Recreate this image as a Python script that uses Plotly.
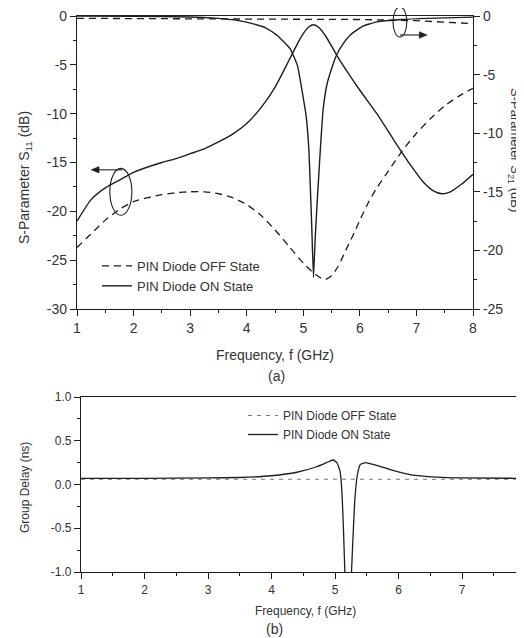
import plotly.graph_objects as go

# ---------------- data ----------------
# (a) S11, PIN diode OFF (left axis, dashed)
f_s11_off = [1.0, 1.25, 1.5, 1.75, 2.0, 2.25, 2.5, 2.75, 3.0, 3.25, 3.5, 3.75, 4.0, 4.25,
             4.5, 4.75, 5.0, 5.2, 5.38, 5.5, 5.62, 5.75, 5.9, 6.0, 6.15, 6.3, 6.5, 6.75,
             7.0, 7.25, 7.5, 7.75, 8.0]
s11_off = [-23.7, -22.3, -20.9, -19.8, -19.0, -18.6, -18.3, -18.1, -18.0, -18.0, -18.2,
           -18.6, -19.3, -20.4, -21.9, -23.6, -25.3, -26.4, -27.0, -26.6, -25.6, -24.0,
           -22.2, -20.9, -19.1, -17.6, -15.9, -13.8, -12.0, -10.5, -9.2, -8.2, -7.4]

# (a) S11, PIN diode ON (left axis, solid)
f_s11_on = [1.0, 1.25, 1.5, 1.75, 2.0, 2.5, 2.75, 3.0, 3.25, 3.5, 3.75, 4.0, 4.25, 4.5,
            4.75, 4.9, 5.0, 5.1, 5.18, 5.28, 5.4, 5.6, 5.8, 6.0, 6.3, 6.6, 6.9, 7.12,
            7.3, 7.45, 7.6, 7.8, 8.0]
s11_on = [-21.0, -18.8, -17.6, -16.8, -16.0, -15.0, -14.6, -14.1, -13.6, -12.9, -12.1,
          -11.0, -9.4, -7.3, -4.5, -2.8, -1.8, -1.1, -0.9, -1.2, -2.1, -4.1, -5.9, -7.6,
          -10.0, -12.7, -15.3, -17.0, -17.9, -18.2, -18.0, -17.2, -16.2]

# (a) S21, PIN diode OFF (right axis, dashed)
f_s21_off = [1.0, 4.0, 6.0, 7.0, 7.5, 8.0]
s21_off = [-0.2, -0.25, -0.3, -0.4, -0.5, -0.65]

# (a) S21, PIN diode ON (right axis, solid)
f_s21_on = [1.0, 2.0, 3.0, 3.5, 3.8, 4.1, 4.35, 4.55, 4.77, 4.9, 5.0, 5.05, 5.1, 5.12,
            5.15, 5.18, 5.21, 5.25, 5.3, 5.35, 5.42, 5.5, 5.59, 5.7, 5.83, 6.04, 6.3,
            6.74, 7.2, 8.0]
s21_on = [0.0, -0.02, -0.08, -0.2, -0.35, -0.65, -1.05, -1.7, -2.8, -4.3, -7.0, -8.5,
          -11.5, -14.0, -18.0, -22.3, -19.0, -15.5, -11.5, -8.0, -5.8, -4.5, -3.3, -2.4,
          -1.62, -0.9, -0.5, -0.3, -0.2, -0.1]

# (b) group delay (ns)
f_gd_off = [1.0, 2.0, 3.0, 4.0, 5.0, 6.0, 7.0, 8.0]
gd_off = [0.06, 0.06, 0.06, 0.06, 0.06, 0.06, 0.06, 0.06]

f_gd_on = [1.0, 2.0, 3.0, 3.5, 4.0, 4.4, 4.7, 4.9, 4.97, 5.03, 5.08, 5.11, 5.13, 5.155,
           5.17, 5.25, 5.26, 5.29, 5.31, 5.35, 5.4, 5.48, 5.6, 5.87, 6.2, 6.6, 7.0, 8.0]
gd_on = [0.07, 0.07, 0.075, 0.08, 0.10, 0.14, 0.20, 0.26, 0.28, 0.25, 0.15, -0.1, -0.45,
         -1.0, -1.5, -1.5, -1.0, -0.5, -0.2, 0.1, 0.23, 0.25, 0.23, 0.17, 0.11, 0.085,
         0.075, 0.07]

# tick labels
x_ticks_a = [1, 2, 3, 4, 5, 6, 7, 8]
x_labels_a = ["1", "2", "3", "4", "5", "6", "7", "8"]
y_ticks_left = [0, -5, -10, -15, -20, -25, -30]
y_labels_left = ["0", "-5", "-10", "-15", "-20", "-25", "-30"]
y_ticks_right = [0, -5, -10, -15, -20, -25]
y_labels_right = ["0", "-5", "-10", "-15", "-20", "-25"]
x_ticks_b = [1, 2, 3, 4, 5, 6, 7]
x_labels_b = ["1", "2", "3", "4", "5", "6", "7"]
y_ticks_b = [1.0, 0.5, 0.0, -0.5, -1.0]
y_labels_b = ["1.0", "0.5", "0.0", "-0.5", "-1.0"]

legend_names = ["PIN Diode OFF State", "PIN Diode ON State"]

# ---------------- styling ----------------
INK = "#1e1e1e"
TXT = "#333333"
FONT = "Liberation Sans, Arial, sans-serif"
DASH = "7px,5px"

# the page body has an 8px margin: the figure covers window pixels 8..524 x 8..638
OFF = 8
W, H = 524 - OFF, 638 - OFF


def px_x(p):          # window pixel x -> paper fraction
    return (p - OFF) / W


def px_y(p):          # window pixel y -> paper fraction
    return (638 - p) / H


fig = go.Figure()

fig.add_trace(go.Scatter(x=f_s11_off, y=s11_off, mode="lines", name=legend_names[0],
                         line=dict(color=INK, width=1.3, dash=DASH, shape="spline", smoothing=0.6),
                         xaxis="x", yaxis="y", legend="legend"))
fig.add_trace(go.Scatter(x=f_s11_on, y=s11_on, mode="lines", name=legend_names[1],
                         line=dict(color=INK, width=1.4, shape="spline", smoothing=0.6),
                         xaxis="x", yaxis="y", legend="legend"))
fig.add_trace(go.Scatter(x=f_s21_off, y=s21_off, mode="lines", showlegend=False,
                         line=dict(color=INK, width=1.3, dash=DASH),
                         xaxis="x", yaxis="y2"))
fig.add_trace(go.Scatter(x=f_s21_on, y=s21_on, mode="lines", showlegend=False,
                         line=dict(color=INK, width=1.4, shape="spline", smoothing=0.4),
                         xaxis="x", yaxis="y2"))

fig.add_trace(go.Scatter(x=f_gd_off, y=gd_off, mode="lines", name=legend_names[0],
                         line=dict(color="#777777", width=1.2, dash="4px,5px"),
                         xaxis="x3", yaxis="y3", legend="legend2"))
fig.add_trace(go.Scatter(x=f_gd_on, y=gd_on, mode="lines", name=legend_names[1],
                         line=dict(color=INK, width=1.3, shape="spline", smoothing=0.4),
                         xaxis="x3", yaxis="y3", legend="legend2"))

axis_common = dict(showgrid=False, zeroline=False, showline=True, linecolor=INK,
                   linewidth=1.2, ticks="outside", tickcolor=INK, ticklen=6,
                   ticklabeloverflow="allow",
                   tickfont=dict(family=FONT, size=14, color=TXT))
small_font = dict(family=FONT, size=12, color=TXT)

fig.update_layout(
    width=W, height=H,
    margin=dict(l=0, r=0, t=0, b=0, autoexpand=False),
    paper_bgcolor="white", plot_bgcolor="white",
    font=dict(family=FONT, color=TXT),
    xaxis=dict(**axis_common, domain=[px_x(77), px_x(473)], range=[1, 8], anchor="y",
               tickmode="array", tickvals=x_ticks_a, ticktext=x_labels_a, mirror=True,
               minor=dict(dtick=0.5, ticklen=3, ticks="outside", tickcolor=INK)),
    yaxis=dict(**axis_common, domain=[px_y(309), px_y(16)], range=[-30, 0], anchor="x",
               tickmode="array", tickvals=y_ticks_left, ticktext=y_labels_left,
               minor=dict(dtick=2.5, ticklen=3, ticks="outside", tickcolor=INK)),
    yaxis2=dict(**axis_common, range=[-25, 0], overlaying="y", side="right", anchor="x",
                tickmode="array", tickvals=y_ticks_right, ticktext=y_labels_right,
                minor=dict(dtick=2.5, ticklen=3, ticks="outside", tickcolor=INK)),
    xaxis3=dict(**{**axis_common, "tickfont": small_font},
                domain=[px_x(81), 1.0], range=[1, 1 + (524 - 81) / 63.5], anchor="y3",
                tickmode="array", tickvals=x_ticks_b, ticktext=x_labels_b, mirror=True,
                minor=dict(dtick=0.5, ticklen=3, ticks="outside", tickcolor=INK)),
    yaxis3=dict(**{**axis_common, "tickfont": small_font},
                domain=[px_y(572), px_y(397)], range=[-1, 1], anchor="x3",
                tickmode="array", tickvals=y_ticks_b, ticktext=y_labels_b,
                minor=dict(dtick=0.25, ticklen=3, ticks="outside", tickcolor=INK)),
    legend=dict(x=px_x(97), y=px_y(251), xanchor="left", yanchor="top",
                bgcolor="rgba(0,0,0,0)", tracegroupgap=0,
                font=dict(family=FONT, size=13, color=TXT)),
    legend2=dict(x=px_x(243), y=px_y(401), xanchor="left", yanchor="top",
                 bgcolor="rgba(0,0,0,0)", tracegroupgap=0,
                 font=dict(family=FONT, size=12, color=TXT)),
)

ann = [
    dict(text="Frequency, f (GHz)", x=px_x(275), y=px_y(355), size=14),
    dict(text="(a)", x=px_x(276), y=px_y(376), size=14),
    dict(text="S-Parameter S<sub>11</sub> (dB)", x=px_x(25), y=px_y(178), size=14, angle=-90),
    dict(text="S-Parameter S<sub>21</sub> (dB)", x=px_x(514), y=px_y(150), size=13, angle=90),
    dict(text="Frequency, f (GHz)", x=px_x(305), y=px_y(611), size=12),
    dict(text="(b)", x=px_x(274), y=px_y(629), size=14),
    dict(text="Group Delay (ns)", x=px_x(25), y=px_y(488), size=12, angle=-90),
]
for a in ann:
    fig.add_annotation(text=a["text"], x=a["x"], y=a["y"], xref="paper", yref="paper",
                       showarrow=False, textangle=a.get("angle", 0),
                       font=dict(family=FONT, size=a["size"], color=TXT),
                       xanchor="center", yanchor="middle")

# ellipse markers with arrows pointing to their axes (left: S11 axis, right: S21 axis)
fig.add_shape(type="circle", xref="x", yref="y", x0=1.58, x1=1.97, y0=-20.4, y1=-15.6,
              line=dict(color=INK, width=1.1))
fig.add_shape(type="line", xref="x", yref="y", x0=1.80, y0=-15.75, x1=1.36, y1=-15.75,
              line=dict(color=INK, width=1.1))
fig.add_shape(type="path", xref="x", yref="y",
              path="M 1.25,-15.75 L 1.39,-15.42 L 1.39,-16.08 Z",
              fillcolor=INK, line=dict(color=INK, width=0.5))

fig.add_shape(type="circle", xref="x", yref="paper", x0=6.586, x1=6.83,
              y0=px_y(37), y1=px_y(7), line=dict(color=INK, width=1.1))
fig.add_shape(type="line", xref="x", yref="y2", x0=6.71, y0=-1.62, x1=7.08, y1=-1.62,
              line=dict(color=INK, width=1.1))
fig.add_shape(type="path", xref="x", yref="y2",
              path="M 7.19,-1.62 L 7.05,-1.34 L 7.05,-1.90 Z",
              fillcolor=INK, line=dict(color=INK, width=0.5))

fig.write_html("out.html")
